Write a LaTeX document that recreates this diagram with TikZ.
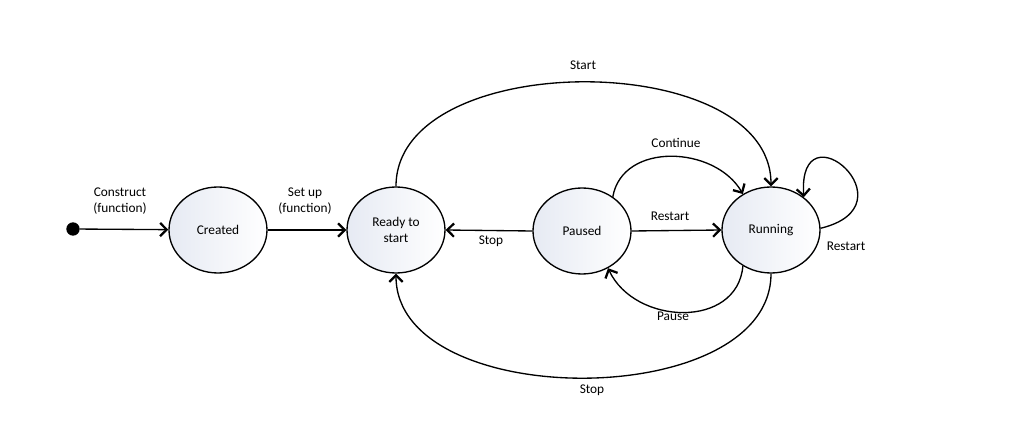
\documentclass[tikz,border=0pt]{standalone}
\usepackage{fontspec}
\setmainfont{Carlito}
\usetikzlibrary{arrows.meta,shapes.geometric}
\definecolor{statefill}{RGB}{230,234,243}

\begin{document}
\begin{tikzpicture}[x=0.75pt,y=-0.75pt,
        font=\fontsize{10}{12}\selectfont,
        state/.style={ellipse,draw,line width=1pt,minimum width=73.5pt,minimum height=64.5pt,
                left color=statefill,right color=white,align=center},
        init/.style={circle,fill=black,inner sep=0pt,minimum size=10pt},
        trans/.style={line width=1pt,-{Straight Barb[length=5pt,width=10pt,line width=1.7pt]}},
        lbl/.style={align=center}]
        \useasboundingbox (0,0) rectangle (1015,441);
        \node[init] (init) at (73,229) {};
        \node[state] (created) at (218,230) {Created};
        \node[state] (ready) at (396,230) {Ready to\\start};
        \node[state] (paused) at (582,231) {Paused};
        \node[state] (running) at (771,230) {Running};
        \draw[trans] (init) -- (created);
        \node[lbl] (lconstruct) at (120,201) {Construct\\(function)};
        \draw[trans] (created) -- (ready);
        \node[lbl] (lsetup) at (305,201) {Set up\\(function)};
        \draw[trans] (paused.west) -- (ready.east);
        \node (lstop1) at (491,241) {Stop};
        \draw[trans] (paused.east) -- (running.west);
        \node (lrestart1) at (670,216) {Restart};
        \draw[trans] (ready.north) to[out=90,in=90,looseness=0.95] (running.north);
        \node (lstart) at (583,65) {Start};
        \draw[trans] (paused.48) to[out=80,in=120,looseness=1.1] (running.128);
        \node (lcontinue) at (676,143) {Continue};
        \draw[trans] (running.232) to[out=-95,in=-65,looseness=1.2] (paused.305);
        \node (lpause) at (673,316) {Pause};
        \draw[trans] (running.south) to[out=-90,in=-90,looseness=0.95] (ready.south);
        \node (lstop2) at (592,390) {Stop};
        \draw[trans] (running.2) .. controls +(95,-23) and +(-6,-94) .. (running.45);
        \node (lrestart2) at (846,246) {Restart};
\end{tikzpicture}
\end{document}
